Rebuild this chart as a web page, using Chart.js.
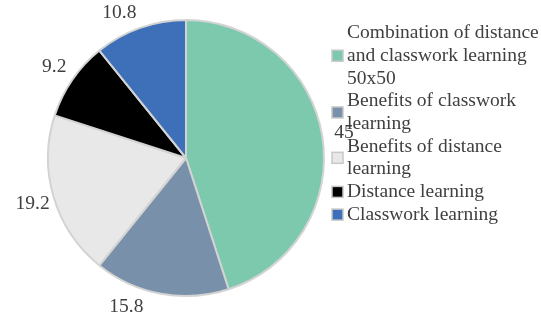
<!DOCTYPE html>
<html>
<head>
<meta charset="utf-8">
<script src="https://cdn.jsdelivr.net/npm/chart.js@4.4.1/dist/chart.umd.min.js"></script>
<style>
    body { margin: 0; background: #fff; }
    #wrap { width: 541px; height: 319px; }
</style>
</head>
<body>
<div id="wrap"><canvas id="pieChart"></canvas></div>
<script>
// categories (legend text, one entry per line)
var categories = [
    ["Combination of distance", "and classwork learning", "50x50"],
    ["Benefits of classwork", "learning"],
    ["Benefits of distance", "learning"],
    ["Distance learning"],
    ["Classwork learning"]
];
// share of answers, %
var values = [45, 15.8, 19.2, 9.2, 10.8];
var valueLabels = ["45", "15.8", "19.2", "9.2", "10.8"];
var colors = ["#7cc9ae", "#7990aa", "#e7e8e7", "#000000", "#3d70b8"];

var FONT = '19.5px "Liberation Serif", "Times New Roman", serif';
var TEXT = "#404040";

// value labels outside the pie, pushed round the rim if they leave the canvas
var outsideLabels = {
    id: 'outsideLabels',
    afterDatasetsDraw: function (chart) {
        var ctx = chart.ctx;
        var meta = chart.getDatasetMeta(0);
        ctx.save();
        ctx.font = FONT;
        ctx.fillStyle = TEXT;
        ctx.textAlign = 'center';
        ctx.textBaseline = 'middle';
        meta.data.forEach(function (arc, i) {
            var p = arc.getProps(['x', 'y', 'startAngle', 'endAngle', 'outerRadius'], true);
            var a = (p.startAngle + p.endAngle) / 2;
            var twoPi = Math.PI * 2;
            a = ((a % twoPi) + twoPi) % twoPi;
            var d = p.outerRadius + 22;
            var halfH = 10;
            var lx, ly, n = 0;
            while (n < 200) {
                lx = p.x + Math.cos(a) * d;
                ly = p.y + Math.sin(a) * d;
                if (ly + halfH > chart.height - 2) {
                    a += (a > Math.PI / 2 ? 1 : -1) * 0.01;
                } else if (ly - halfH < 2) {
                    a += (a < Math.PI * 1.5 ? -1 : 1) * 0.01;
                } else {
                    break;
                }
                n++;
            }
            ctx.fillText(valueLabels[i], lx, ly);
        });
        ctx.restore();
    }
};

// legend on the right with wrapped lines
var sideLegend = {
    id: 'sideLegend',
    afterDraw: function (chart) {
        var ctx = chart.ctx;
        var lineH = 22.7;
        var y = 33;
        ctx.save();
        ctx.font = FONT;
        ctx.textAlign = 'left';
        ctx.textBaseline = 'middle';
        categories.forEach(function (lines, i) {
            var mid = y + (lines.length - 1) * lineH / 2;
            ctx.fillStyle = colors[i];
            ctx.fillRect(332, mid - 5.5, 11, 11);
            ctx.strokeStyle = "#c8c8c8";
            ctx.lineWidth = 1.5;
            ctx.strokeRect(332, mid - 5.5, 11, 11);
            ctx.fillStyle = TEXT;
            lines.forEach(function (t, k) {
                ctx.fillText(t, 347, y + k * lineH);
            });
            y += lines.length * lineH;
        });
        ctx.restore();
    }
};

var pieData = {
    labels: categories,
    datasets: [{
        data: values,
        backgroundColor: colors,
        borderColor: "#d3d3d3",
        borderWidth: 2
    }]
};

var pieOptions = {
    responsive: true,
    maintainAspectRatio: false,
    animation: false,
    layout: { padding: { left: 47, right: 216, top: 19, bottom: 22 } },
    plugins: {
        legend: { display: false },
        tooltip: { enabled: false }
    }
};

var ctx1 = document.getElementById("pieChart").getContext("2d");
new Chart(ctx1, {type: 'pie', data: pieData, options: pieOptions, plugins: [outsideLabels, sideLegend]});
</script>
</body>
</html>
